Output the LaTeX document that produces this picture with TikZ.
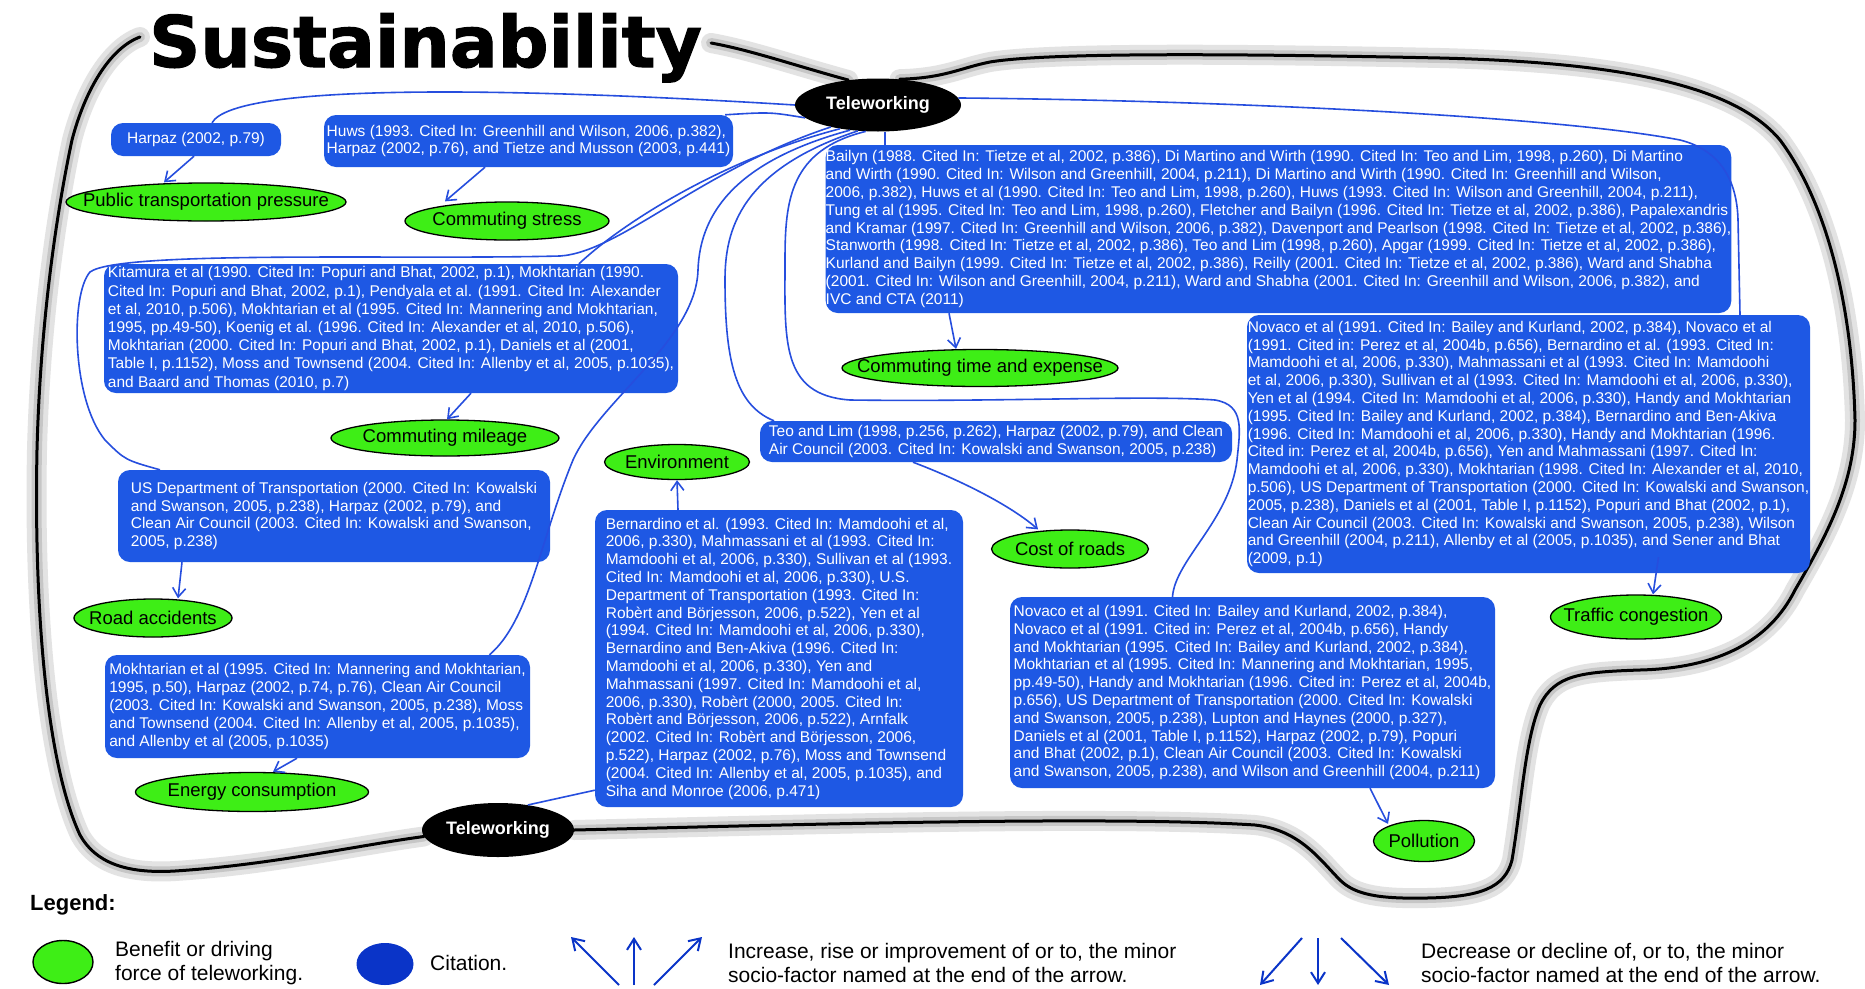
\documentclass[tikz,border=0pt]{standalone}
\usepackage{fontspec}
\setmainfont{Liberation Sans}
\newfontfamily\titlefont{DejaVu Sans}[BoldFeatures={FakeBold=1.5}]
\usetikzlibrary{shapes.geometric,arrows.meta,calc}
\pgfdeclarelayer{background}
\pgfsetlayers{background,main}
\definecolor{citeblue}{RGB}{30,88,228}
\definecolor{linkblue}{RGB}{38,78,222}
\definecolor{benegreen}{RGB}{62,238,22}
\definecolor{legblue}{RGB}{10,52,200}
\begin{document}
\begin{tikzpicture}[x=1pt,y=-1pt,
  cit/.style={fill=citeblue, text=white, rounded corners=12pt, align=left, inner sep=0pt, font=\fontsize{15.5}{17.8}\selectfont},
  ben/.style={ellipse, draw=black, line width=1.3pt, fill=benegreen, inner sep=0pt, font=\fontsize{18.5}{20}\selectfont},
  tele/.style={ellipse, fill=black, text=white, inner sep=0pt, font=\bfseries\fontsize{18}{20}\selectfont},
  link/.style={draw=linkblue, line width=1.6pt},
  arr/.style={link, -{Straight Barb[length=9pt, width=13pt, line width=1.6pt]}},
  legarr/.style={draw=legblue, line width=2pt, -{Straight Barb[length=11pt, width=14pt, line width=2pt]}},
  legtxt/.style={anchor=west, align=left, inner sep=0pt, font=\fontsize{21}{24}\selectfont},
  blobhalo/.style={draw=gray!22, line width=20pt, line join=round, line cap=round},
  blobmid/.style={draw=gray!45, line width=10pt, line join=round, line cap=round},
  blobline/.style={draw=black, line width=3pt, line join=round, line cap=round}
]
\useasboundingbox (0,0) rectangle (1865,988);

% ---------- title ----------
\node[anchor=base west, inner sep=0pt, font=\titlefont\bfseries\fontsize{71}{71}\selectfont] (title) at (149,67) {Sustainability};

% ---------- teleworking ----------
\node[tele, minimum width=166pt, minimum height=53pt] (tw1) at (878,105) {\makebox[0pt]{Teleworking}};
\node[tele, minimum width=152pt, minimum height=54pt] (tw2) at (498,830) {\makebox[0pt]{Teleworking}};

% ---------- citation boxes ----------
\node[cit, minimum width=170pt, minimum height=33pt] (harpaz) at (196,139.5) {Harpaz (2002, p.79)};
\node[cit, minimum width=409pt, minimum height=52pt, font=\fontsize{15.5}{16.7}\selectfont] (huws) at (528.5,141) {Huws (1993. Cited In: Greenhill and Wilson, 2006, p.382),\\Harpaz (2002, p.76), and Tietze and Musson (2003, p.441)};
\node[cit, minimum width=903pt, minimum height=168pt] (bailyn) at (1278.5,229) {Bailyn (1988. Cited In: Tietze et al, 2002, p.386), Di Martino and Wirth (1990. Cited In: Teo and Lim, 1998, p.260), Di Martino\\
and Wirth (1990. Cited In: Wilson and Greenhill, 2004, p.211), Di Martino and Wirth (1990. Cited In: Greenhill and Wilson,\\
2006, p.382), Huws et al (1990. Cited In: Teo and Lim, 1998, p.260), Huws (1993. Cited In: Wilson and Greenhill, 2004, p.211),\\
Tung et al (1995. Cited In: Teo and Lim, 1998, p.260), Fletcher and Bailyn (1996. Cited In: Tietze et al, 2002, p.386), Papalexandris\\
and Kramar (1997. Cited In: Greenhill and Wilson, 2006, p.382), Davenport and Pearlson (1998. Cited In: Tietze et al, 2002, p.386),\\
Stanworth (1998. Cited In: Tietze et al, 2002, p.386), Teo and Lim (1998, p.260), Apgar (1999. Cited In: Tietze et al, 2002, p.386),\\
Kurland and Bailyn (1999. Cited In: Tietze et al, 2002, p.386), Reilly (2001. Cited In: Tietze et al, 2002, p.386), Ward and Shabha\\
(2001. Cited In: Wilson and Greenhill, 2004, p.211), Ward and Shabha (2001. Cited In: Greenhill and Wilson, 2006, p.382), and\\
IVC and CTA (2011)};
\node[cit, minimum width=574pt, minimum height=129pt, font=\fontsize{15.5}{18.2}\selectfont] (kitamura) at (391,328.5) {Kitamura et al (1990. Cited In: Popuri and Bhat, 2002, p.1), Mokhtarian (1990.\\
Cited In: Popuri and Bhat, 2002, p.1), Pendyala et al. (1991. Cited In: Alexander\\
et al, 2010, p.506), Mokhtarian et al (1995. Cited In: Mannering and Mokhtarian,\\
1995, pp.49-50), Koenig et al. (1996. Cited In: Alexander et al, 2010, p.506),\\
Mokhtarian (2000. Cited In: Popuri and Bhat, 2002, p.1), Daniels et al (2001,\\
Table I, p.1152), Moss and Townsend (2004. Cited In: Allenby et al, 2005, p.1035),\\
and Baard and Thomas (2010, p.7)};
\node[cit, minimum width=432pt, minimum height=92pt, font=\fontsize{15.5}{17.6}\selectfont] (usdept) at (334,516) {US Department of Transportation (2000. Cited In: Kowalski\\
and Swanson, 2005, p.238), Harpaz (2002, p.79), and\\
Clean Air Council (2003. Cited In: Kowalski and Swanson,\\
2005, p.238)};
\node[cit, minimum width=425pt, minimum height=103pt] (energybox) at (317.5,706.5) {Mokhtarian et al (1995. Cited In: Mannering and Mokhtarian,\\
1995, p.50), Harpaz (2002, p.74, p.76), Clean Air Council\\
(2003. Cited In: Kowalski and Swanson, 2005, p.238), Moss\\
and Townsend (2004. Cited In: Allenby et al, 2005, p.1035),\\
and Allenby et al (2005, p.1035)};
\node[cit, minimum width=472pt, minimum height=41pt, font=\fontsize{15.5}{18.3}\selectfont] (teo) at (996,441.5) {Teo and Lim (1998, p.256, p.262), Harpaz (2002, p.79), and Clean\\
Air Council (2003. Cited In: Kowalski and Swanson, 2005, p.238)};
\node[cit, minimum width=368pt, minimum height=297pt] (bern) at (779,658.5) {Bernardino et al. (1993. Cited In: Mamdoohi et al,\\
2006, p.330), Mahmassani et al (1993. Cited In:\\
Mamdoohi et al, 2006, p.330), Sullivan et al (1993.\\
Cited In: Mamdoohi et al, 2006, p.330), U.S.\\
Department of Transportation (1993. Cited In:\\
Robèrt and Börjesson, 2006, p.522), Yen et al\\
(1994. Cited In: Mamdoohi et al, 2006, p.330),\\
Bernardino and Ben-Akiva (1996. Cited In:\\
Mamdoohi et al, 2006, p.330), Yen and\\
Mahmassani (1997. Cited In: Mamdoohi et al,\\
2006, p.330), Robèrt (2000, 2005. Cited In:\\
Robèrt and Börjesson, 2006, p.522), Arnfalk\\
(2002. Cited In: Robèrt and Börjesson, 2006,\\
p.522), Harpaz (2002, p.76), Moss and Townsend\\
(2004. Cited In: Allenby et al, 2005, p.1035), and\\
Siha and Monroe (2006, p.471)};
\node[cit, minimum width=563pt, minimum height=258pt] (novR) at (1528.5,444) {Novaco et al (1991. Cited In: Bailey and Kurland, 2002, p.384), Novaco et al\\
(1991. Cited in: Perez et al, 2004b, p.656), Bernardino et al. (1993. Cited In:\\
Mamdoohi et al, 2006, p.330), Mahmassani et al (1993. Cited In: Mamdoohi\\
et al, 2006, p.330), Sullivan et al (1993. Cited In: Mamdoohi et al, 2006, p.330),\\
Yen et al (1994. Cited In: Mamdoohi et al, 2006, p.330), Handy and Mokhtarian\\
(1995. Cited In: Bailey and Kurland, 2002, p.384), Bernardino and Ben-Akiva\\
(1996. Cited In: Mamdoohi et al, 2006, p.330), Handy and Mokhtarian (1996.\\
Cited in: Perez et al, 2004b, p.656), Yen and Mahmassani (1997. Cited In:\\
Mamdoohi et al, 2006, p.330), Mokhtarian (1998. Cited In: Alexander et al, 2010,\\
p.506), US Department of Transportation (2000. Cited In: Kowalski and Swanson,\\
2005, p.238), Daniels et al (2001, Table I, p.1152), Popuri and Bhat (2002, p.1),\\
Clean Air Council (2003. Cited In: Kowalski and Swanson, 2005, p.238), Wilson\\
and Greenhill (2004, p.211), Allenby et al (2005, p.1035), and Sener and Bhat\\
(2009, p.1)};
\node[cit, minimum width=485pt, minimum height=191pt] (novB) at (1252.5,692.5) {Novaco et al (1991. Cited In: Bailey and Kurland, 2002, p.384),\\
Novaco et al (1991. Cited in: Perez et al, 2004b, p.656), Handy\\
and Mokhtarian (1995. Cited In: Bailey and Kurland, 2002, p.384),\\
Mokhtarian et al (1995. Cited In: Mannering and Mokhtarian, 1995,\\
pp.49-50), Handy and Mokhtarian (1996. Cited in: Perez et al, 2004b,\\
p.656), US Department of Transportation (2000. Cited In: Kowalski\\
and Swanson, 2005, p.238), Lupton and Haynes (2000, p.327),\\
Daniels et al (2001, Table I, p.1152), Harpaz (2002, p.79), Popuri\\
and Bhat (2002, p.1), Clean Air Council (2003. Cited In: Kowalski\\
and Swanson, 2005, p.238), and Wilson and Greenhill (2004, p.211)};

% ---------- benefit ellipses ----------
\node[ben, minimum width=280pt, minimum height=38pt] (ptp) at (206,202) {\makebox[0pt]{Public transportation pressure}};
\node[ben, minimum width=204pt, minimum height=38pt] (cstress) at (507,221) {\makebox[0pt]{Commuting stress}};
\node[ben, minimum width=276pt, minimum height=37pt] (cte) at (980,368) {\makebox[0pt]{Commuting time and expense}};
\node[ben, minimum width=228pt, minimum height=36pt] (cmil) at (445,438) {\makebox[0pt]{Commuting mileage}};
\node[ben, minimum width=145pt, minimum height=35pt] (env) at (677,462) {\makebox[0pt]{Environment}};
\node[ben, minimum width=157pt, minimum height=38pt] (roads) at (1070,549) {\makebox[0pt]{Cost of roads}};
\node[ben, minimum width=158pt, minimum height=38pt] (racc) at (153,618) {\makebox[0pt]{Road accidents}};
\node[ben, minimum width=233pt, minimum height=39pt] (energy) at (252,792) {\makebox[0pt]{Energy consumption}};
\node[ben, minimum width=171pt, minimum height=44pt] (traffic) at (1636,617) {\makebox[0pt]{Traffic congestion}};
\node[ben, minimum width=101pt, minimum height=41pt] (pollution) at (1424,841) {\makebox[0pt]{Pollution}};

% ---------- outer sustainability outline ----------
\begin{pgfonlayer}{background}
\fill[white] (0,0) rectangle (1865,988);
\foreach \st in {blobhalo,blobmid,blobline}{
  \path[\st] ([xshift=-9pt,yshift=30pt]title.base west) .. controls (110,48) and (85,90) .. (72,140)
    .. controls (55,220) and (40,330) .. (37,450)
    .. controls (34,600) and (45,760) .. (80,835)
    .. controls (95,862) and (125,874) .. (175,871)
    .. controls (270,865) and (360,845) .. (tw2.185);
  \path[\st] (tw2.east) .. controls (750,826) and (1100,815) .. (1255,825)
    .. controls (1300,830) and (1320,860) .. (1340,880)
    .. controls (1355,895) and (1380,899) .. (1427,898)
    .. controls (1480,897) and (1505,888) .. (1512,860)
    .. controls (1522,800) and (1525,740) .. (1540,705)
    .. controls (1555,675) and (1580,672) .. (1640,670)
    .. controls (1720,668) and (1770,640) .. (1795,590)
    .. controls (1830,530) and (1855,480) .. (1855,420)
    .. controls (1852,300) and (1825,200) .. (1780,140)
    .. controls (1730,80) and (1600,62) .. (1440,58)
    .. controls (1250,54) and (1050,52) .. (990,62)
    .. controls (960,68) and (945,78) .. (tw1.50);
  \path[\st] ([xshift=9pt,yshift=24pt]title.base east) .. controls (750,50) and (790,64) .. (tw1.140);
}
\end{pgfonlayer}

% ---------- links from teleworking ----------
\draw[link] (tw1.west) .. controls (520,88) and (235,82) .. ([xshift=16pt]harpaz.north);
\draw[link] (tw1.190) .. controls (770,112) .. ([xshift=-8pt]huws.north east);
\draw[link] (tw1.205) .. controls (700,170) and (620,252) .. (560,256)
   .. controls (400,260) and (120,250) .. (90,272)
   .. controls (70,295) and (72,400) .. (105,440)
   .. controls (125,460) .. ([xshift=-174pt]usdept.north);
\draw[link] (tw1.212) .. controls (720,160) and (620,225) .. ([xshift=188pt]kitamura.north);
\draw[link] (tw1.222) .. controls (740,160) and (700,210) .. (698,270)
   .. controls (696,340) and (600,400) .. (573,460)
   .. controls (540,540) and (530,620) .. ([xshift=172pt]energybox.north);
\draw[link] (tw1.232) .. controls (740,170) and (725,230) .. (725,280)
   .. controls (725,360) and (735,405) .. ([xshift=-222pt]teo.north);
\draw[link] (tw1.245) .. controls (790,150) and (785,200) .. (785,260)
   .. controls (785,340) and (780,395) .. (850,400)
   .. controls (1000,402) and (1150,395) .. (1215,400)
   .. controls (1245,405) and (1240,430) .. (1237,460)
   .. controls (1230,520) and (1175,560) .. ([xshift=-80pt]novB.north);
\draw[link] (tw1.285) -- (tw1.285 |- bailyn.north);
\draw[link] (tw1.5) .. controls (1200,100) and (1550,115) .. (1680,140)
   .. controls (1720,150) and (1737,180) .. (1738,220) -- ([xshift=211.5pt]novR.north);
\draw[link] (tw2.40) -- ([yshift=17pt]bern.south west);

% ---------- arrows to benefits ----------
\draw[arr] ([xshift=-2pt]harpaz.south) -- ([xshift=-42pt]ptp.north);
\draw[arr] ([xshift=-43.5pt]huws.south) -- ([xshift=-62pt]cstress.north);
\draw[arr] ([xshift=-329.5pt]bailyn.south) -- ([xshift=-24pt]cte.north);
\draw[arr] ([xshift=80pt]kitamura.south) -- ([xshift=2pt]cmil.north);
\draw[arr] ([xshift=-152pt]usdept.south) -- ([xshift=25pt]racc.north);
\draw[arr] ([xshift=-20.5pt]energybox.south) -- ([xshift=21pt]energy.north);
\draw[arr] ([xshift=-101pt]bern.north) -- (env.south);
\draw[arr] ([xshift=-83pt]teo.south) .. controls (960,480) and (1010,505) .. ([xshift=-32pt]roads.north);
\draw[arr] ([xshift=130pt,yshift=16pt]novR.south) -- ([xshift=17pt]traffic.north);
\draw[arr] ([xshift=117.5pt]novB.south) -- ([xshift=-36pt,yshift=-4pt]pollution.north);

% ---------- legend ----------
\node[anchor=base west, inner sep=0pt, font=\bfseries\fontsize{22}{24}\selectfont] (legend) at (30,910) {Legend:};
\node[ellipse, draw=black, line width=1.4pt, fill=benegreen, minimum width=60pt, minimum height=43pt, inner sep=0pt] (legben) at (63,962) {};
\node[legtxt] (legbentxt) at (115,963) {Benefit or driving\\force of teleworking.};
\node[ellipse, fill=legblue, minimum width=57pt, minimum height=42pt, inner sep=0pt] (legcit) at (385,964) {};
\node[legtxt] (legcittxt) at (430,963) {Citation.};
\coordinate (u1a) at (619,985); \coordinate (u1b) at (571,937);
\coordinate (u2a) at (634,985); \coordinate (u2b) at (634,937);
\coordinate (u3a) at (654,985); \coordinate (u3b) at (702,937);
\draw[legarr] (u1a) -- (u1b);
\draw[legarr] (u2a) -- (u2b);
\draw[legarr] (u3a) -- (u3b);
\node[legtxt] (leguptxt) at (728,963) {Increase, rise or improvement of or to, the minor\\socio-factor named at the end of the arrow.};
\coordinate (d1a) at (1302,938); \coordinate (d1b) at (1260,985);
\coordinate (d2a) at (1318,938); \coordinate (d2b) at (1318,985);
\coordinate (d3a) at (1341,938); \coordinate (d3b) at (1389,985);
\draw[legarr] (d1a) -- (d1b);
\draw[legarr] (d2a) -- (d2b);
\draw[legarr] (d3a) -- (d3b);
\node[legtxt] (legdowntxt) at (1421,963) {Decrease or decline of, or to, the minor\\socio-factor named at the end of the arrow.};
\end{tikzpicture}
\end{document}
